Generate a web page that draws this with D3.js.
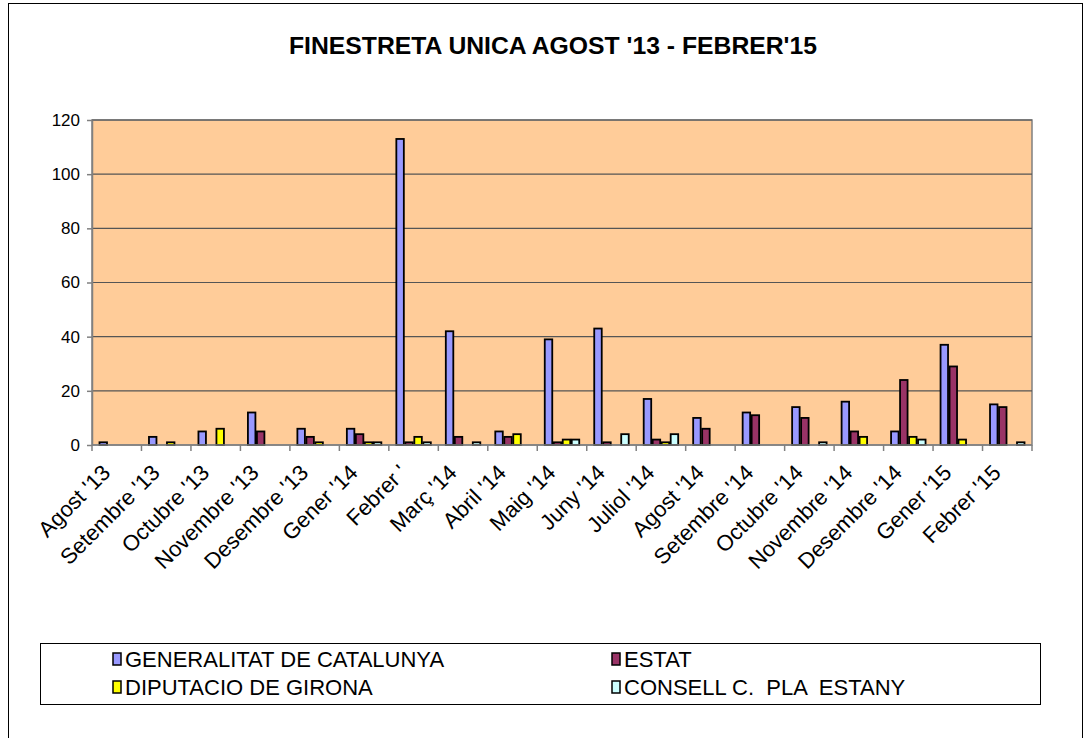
<!DOCTYPE html>
<html lang="en">
<head>
<meta charset="utf-8">
<title>Finestreta Unica</title>
<script src="https://d3js.org/d3.v7.min.js"></script>
<style>
  body { margin: 0; background: #fff; }
  text { font-family: Arial, "Liberation Sans", sans-serif; }
</style>
</head>
<body>
<script>
  var months = ["Agost '13", "Setembre '13", "Octubre '13", "Novembre '13", "Desembre '13",
                "Gener '14", "Febrer '", "Març '14", "Abril '14", "Maig '14", "Juny '14",
                "Juliol '14", "Agost '14", "Setembre '14", "Octubre '14", "Novembre '14",
                "Desembre '14", "Gener '15", "Febrer '15"];
  var seriesNames = ["GENERALITAT DE CATALUNYA", "ESTAT", "DIPUTACIO DE GIRONA", "CONSELL C.  PLA  ESTANY"];
  var generalitat = [1, 3, 5, 12, 6, 6, 113, 42, 5, 39, 43, 17, 10, 12, 14, 16, 5, 37, 15];
  var estat       = [0, 0, 0, 5, 3, 4, 1, 3, 3, 1, 1, 2, 6, 11, 10, 5, 24, 29, 14];
  var diputacio   = [0, 1, 6, 0, 1, 1, 3, 0, 4, 2, 0, 1, 0, 0, 0, 3, 3, 2, 0];
  var consell     = [0, 0, 0, 0, 0, 1, 1, 1, 0, 2, 4, 4, 0, 0, 1, 0, 2, 0, 1];
  var colors = ["#9999ff", "#993366", "#ffff00", "#ccffff"];
  var yTicks = [0, 20, 40, 60, 80, 100, 120];

  var values = [generalitat, estat, diputacio, consell];
  var W = 1087, H = 738;
  var plot = {left: 92, right: 1032, top: 120, bottom: 445};

  var svg = d3.select("body").append("svg")
      .attr("width", W).attr("height", H);

  // outer frame
  svg.append("rect")
     .attr("x", 8.5).attr("y", 3.5)
     .attr("width", 1074).attr("height", 760)
     .attr("fill", "#fff").attr("stroke", "#000").attr("stroke-width", 1);

  // title
  svg.append("text")
     .attr("x", 553).attr("y", 54)
     .attr("text-anchor", "middle")
     .attr("font-size", "23px").attr("font-weight", "bold")
     .attr("textLength", 528).attr("lengthAdjust", "spacingAndGlyphs")
     .text("FINESTRETA UNICA AGOST '13 - FEBRER'15");

  var x0 = d3.scaleBand().domain(months).range([plot.left, plot.right]).paddingInner(0).paddingOuter(0);
  var x1 = d3.scaleBand().domain(d3.range(seriesNames.length)).range([0, x0.bandwidth()])
             .paddingInner(0).paddingOuter(0.75);
  var y = d3.scaleLinear().domain([0, 120]).range([plot.bottom, plot.top]);

  // plot background
  svg.append("rect")
     .attr("x", plot.left).attr("y", plot.top)
     .attr("width", plot.right - plot.left).attr("height", plot.bottom - plot.top)
     .attr("fill", "#ffcc99").attr("stroke", "#808080").attr("stroke-width", 1.5);

  // gridlines
  svg.append("g").selectAll("line")
     .data(yTicks.filter(function (d) { return d > 0; }))
     .enter().append("line")
     .attr("x1", plot.left).attr("x2", plot.right)
     .attr("y1", function (d) { return y(d); }).attr("y2", function (d) { return y(d); })
     .attr("stroke", "#555").attr("stroke-width", 1.2);

  // bars
  var groups = svg.append("g").selectAll("g")
     .data(months).enter().append("g")
     .attr("transform", function (d) { return "translate(" + x0(d) + ",0)"; });

  groups.selectAll("rect")
     .data(function (d, i) { return values.map(function (v, s) { return {s: s, v: v[i]}; }); })
     .enter().filter(function (d) { return d.v > 0; })
     .append("rect")
     .attr("x", function (d) { return x1(d.s) + 0.75; })
     .attr("y", function (d) { return y(d.v); })
     .attr("width", x1.bandwidth() - 1.5)
     .attr("height", function (d) { return y(0) - y(d.v); })
     .attr("fill", function (d) { return colors[d.s]; })
     .attr("stroke", "#000").attr("stroke-width", 1.8);

  // y axis
  var yAxis = svg.append("g")
     .attr("transform", "translate(" + plot.left + ",0)")
     .call(d3.axisLeft(y).tickValues(yTicks).tickSize(5).tickSizeOuter(0).tickPadding(7));
  yAxis.select(".domain").attr("stroke", "#808080").attr("stroke-width", 1.5);
  yAxis.selectAll(".tick line").attr("stroke", "#808080").attr("stroke-width", 1.5);
  yAxis.selectAll(".tick text").attr("font-size", "17px").attr("fill", "#000")
       .attr("font-family", "Arial, 'Liberation Sans', sans-serif");

  // x axis with ticks at category boundaries
  var xg = svg.append("g");
  xg.append("line")
    .attr("x1", plot.left).attr("x2", plot.right)
    .attr("y1", plot.bottom).attr("y2", plot.bottom)
    .attr("stroke", "#808080").attr("stroke-width", 1.5);
  xg.selectAll("line.tk")
    .data(months.concat(["end"])).enter().append("line")
    .attr("class", "tk")
    .attr("x1", function (d, i) { return plot.left + i * x0.step(); })
    .attr("x2", function (d, i) { return plot.left + i * x0.step(); })
    .attr("y1", plot.bottom).attr("y2", plot.bottom + 6)
    .attr("stroke", "#808080").attr("stroke-width", 1.5);
  xg.selectAll("text")
    .data(months).enter().append("text")
    .attr("transform", function (d) {
      var cx = x0(d) + x0.bandwidth() / 2 - 5;
      return "translate(" + cx + "," + (plot.bottom + 29) + ") rotate(-45)";
    })
    .attr("text-anchor", "end")
    .attr("font-size", "22px")
    .text(function (d) { return d; });

  // legend
  var lg = svg.append("g");
  lg.append("rect")
    .attr("x", 40.5).attr("y", 643.5).attr("width", 1000).attr("height", 61)
    .attr("fill", "#fff").attr("stroke", "#000").attr("stroke-width", 1);
  var legPos = [[113, 659], [612, 659], [113, 687], [612, 687]];
  var items = lg.selectAll("g.item").data(seriesNames).enter().append("g")
    .attr("class", "item")
    .attr("transform", function (d, i) { return "translate(" + legPos[i][0] + "," + legPos[i][1] + ")"; });
  items.append("rect")
    .attr("x", 0).attr("y", -6).attr("width", 8).attr("height", 12)
    .attr("fill", function (d, i) { return colors[i]; })
    .attr("stroke", "#000").attr("stroke-width", 1.5);
  items.append("text")
    .attr("x", 12).attr("y", 8)
    .attr("font-size", "22px")
    .attr("xml:space", "preserve")
    .style("white-space", "pre")
    .text(function (d) { return d; });
</script>
</body>
</html>
